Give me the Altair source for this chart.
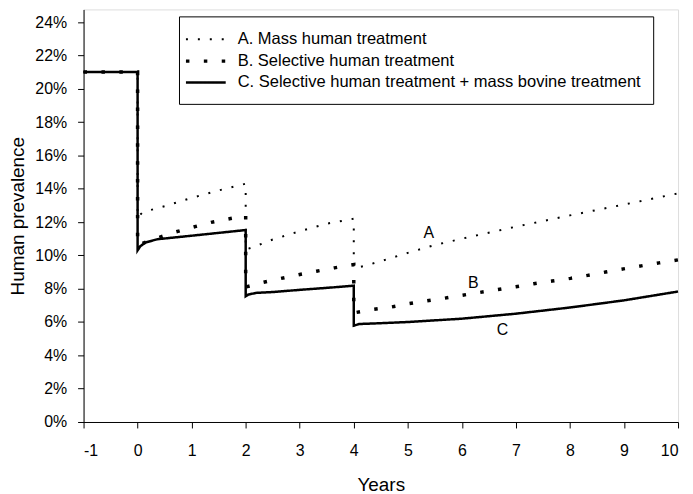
import altair as alt
import pandas as pd

series_names = [
    "A. Mass human treatment",
    "B. Selective human treatment",
    "C. Selective human treatment + mass bovine treatment",
]

# Series A: mass human treatment (prevalence in %)
a_years = [-1, 0, 0, 0.1, 0.5, 1.0, 1.5, 2, 2, 2.1, 2.5, 3.0, 3.5, 4, 4, 4.2, 4.5, 5.0, 5.5, 6, 7, 8, 9, 10]
a_prev = [21, 21, 12.3, 12.6, 12.95, 13.45, 13.9, 14.3, 10.35, 10.45, 10.95, 11.45, 11.9, 12.2,
          9.2, 9.37, 9.65, 10.15, 10.62, 11.0, 11.72, 12.4, 13.05, 13.72]

# Series B: selective human treatment
b_years = [-1, 0, 0, 0.2, 0.37, 0.7, 1.03, 1.36, 1.7, 2, 2, 2.3, 2.63, 2.98, 3.31, 3.64, 4, 4,
           4.34, 4.69, 5.02, 5.33, 5.66, 5.99, 6.34, 6.67, 7.0, 7.33, 7.67, 8.01, 8.33, 8.66,
           8.99, 9.32, 9.65, 10]
b_prev = [21, 21, 10.6, 10.85, 11.05, 11.4, 11.7, 11.98, 12.2, 12.38, 8.1, 8.36, 8.6, 8.84, 9.05,
          9.25, 9.45, 6.55, 6.75, 6.9, 7.1, 7.26, 7.42, 7.6, 7.78, 7.95, 8.12, 8.3, 8.46, 8.62,
          8.8, 9.0, 9.19, 9.37, 9.55, 9.73]

# Series C: selective human treatment + mass bovine treatment
c_years = [-1, 0, 0, 0.05, 0.15, 0.37, 1.0, 1.5, 2, 2, 2.05, 2.2, 2.5, 3, 3.5, 4, 4, 4.1, 4.5,
           5, 6, 7, 8, 9, 10]
c_prev = [21, 21, 10.3, 10.55, 10.78, 10.97, 11.18, 11.35, 11.52, 7.55, 7.65, 7.75, 7.8, 7.93,
          8.05, 8.18, 5.78, 5.88, 5.93, 6.0, 6.2, 6.5, 6.87, 7.3, 7.83]

# Curve labels
label_text = ["A", "B", "C"]
label_years = [5.39, 6.21, 6.75]
label_prev = [11.34, 8.36, 5.49]

y_ticks = [0, 2, 4, 6, 8, 10, 12, 14, 16, 18, 20, 22, 24]
x_ticks = [-1, 0, 1, 2, 3, 4, 5, 6, 7, 8, 9, 10]

rows = []
for name, xs, ys in zip(series_names, [a_years, b_years, c_years], [a_prev, b_prev, c_prev]):
    for i, (x, y) in enumerate(zip(xs, ys)):
        rows.append({"series": name, "year": x, "prev": y / 100.0, "idx": i})
df = pd.DataFrame(rows)

labels_df = pd.DataFrame({
    "text": label_text,
    "year": label_years,
    "prev": [v / 100.0 for v in label_prev],
})

FONT = "Liberation Sans"

x_scale = alt.Scale(domain=[-1, 10], nice=False, zero=False)
y_scale = alt.Scale(domain=[0, 0.2476], nice=False)

legend = alt.Legend(
    title=None,
    orient="none",
    legendX=96,
    legendY=7,
    symbolType="M-2,0H2",
    symbolSize=400,
    symbolOffset=3,
    symbolStrokeColor="black",
    labelFontSize=16.6,
    labelFont=FONT,
    labelColor="black",
    labelOffset=20,
    labelLimit=700,
    rowPadding=1,
    padding=12,
    strokeColor="black",
    fillColor="white",
)

lines = alt.Chart(df).mark_line(color="black", strokeCap="butt").encode(
    x=alt.X(
        "year:Q",
        scale=x_scale,
        axis=alt.Axis(
            values=x_ticks, labelExpr="'' + datum.value", title="Years", titleFontSize=19,
            titleFontWeight="normal", titlePadding=17, labelFontSize=16,
            labelPadding=15, tickSize=6, grid=False, domainColor="black",
            tickColor="black", labelColor="black", titleColor="black",
            labelFont=FONT, titleFont=FONT, labelOverlap=False, tickCount=20,
        ),
    ),
    y=alt.Y(
        "prev:Q",
        scale=y_scale,
        axis=alt.Axis(
            values=[v / 100.0 for v in y_ticks], format=".0%",
            title="Human prevalence", titleFontSize=19, titleFontWeight="normal",
            titlePadding=7, labelFontSize=16, labelPadding=11, tickSize=6,
            grid=False, domainColor="black", tickColor="black", labelOverlap=False,
            tickCount=20,
            labelColor="black", titleColor="black", labelFont=FONT, titleFont=FONT,
        ),
    ),
    strokeDash=alt.StrokeDash(
        "series:N",
        scale=alt.Scale(domain=series_names, range=[[2, 10], [3.5, 14.5], [1, 0]]),
        legend=legend,
    ),
    strokeWidth=alt.StrokeWidth(
        "series:N",
        scale=alt.Scale(type="ordinal", domain=series_names, range=[2, 3.5, 2.5]),
        legend=legend,
    ),
    order=alt.Order("idx:Q"),
)

texts = alt.Chart(labels_df).mark_text(
    font=FONT, fontSize=16, color="black", align="center", baseline="middle"
).encode(
    x=alt.X("year:Q", scale=x_scale),
    y=alt.Y("prev:Q", scale=y_scale),
    text="text:N",
)

chart = alt.layer(lines, texts).properties(
    width=598,
    height=415,
    padding={"left": 0, "top": 0, "right": 0, "bottom": 0},
).configure_view(
    stroke="black", strokeWidth=1
).configure(
    font=FONT, background="white"
)

chart.save("out.html", embed_options={"renderer": "svg", "actions": False})
